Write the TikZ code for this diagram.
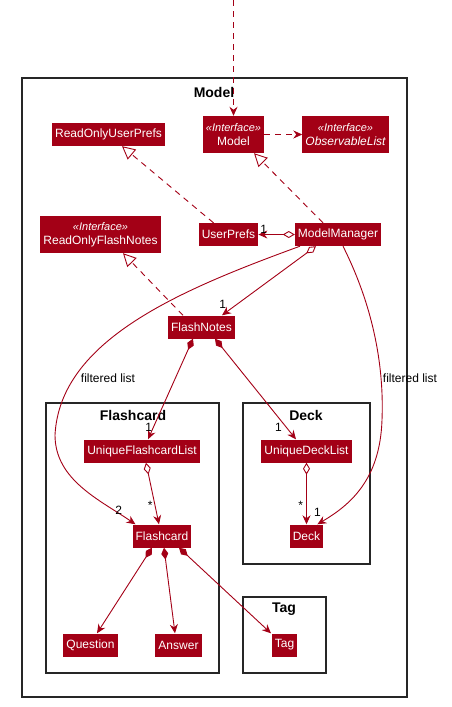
\documentclass[tikz,border=0pt]{standalone}
\usepackage{fontspec}
\setmainfont{Liberation Sans}
\usetikzlibrary{arrows.meta}
\definecolor{umlred}{RGB}{163,0,22}

\begin{document}
\begin{tikzpicture}[x=1pt, y=-1pt,
    cls/.style={fill=umlred, text=white, font=\fontsize{12}{14}\selectfont,
      inner xsep=3pt, inner ysep=0pt, minimum height=23pt, align=center},
    iface/.style={cls, minimum height=37pt},
    pkg/.style={draw=black!85, line width=1.2pt},
    pkgname/.style={font=\fontsize{14}{16}\selectfont\bfseries},
    mult/.style={font=\fontsize{12}{14}\selectfont, inner sep=1pt},
    conn/.style={draw=umlred, line width=0.9pt},
    assoc/.style={conn, -{Stealth[length=9pt, width=8pt, inset=3pt]}},
    dep/.style={assoc, dash pattern=on 6pt off 5pt},
    real/.style={conn, dash pattern=on 6pt off 5pt,
      -{Triangle[open, length=13pt, width=13pt, fill=white]}},
    aggr/.style={conn, {Diamond[open, length=12pt, width=7pt, fill=white]}-{Stealth[length=9pt, width=8pt, inset=3pt]}},
    comp/.style={conn, {Diamond[length=12pt, width=7pt]}-{Stealth[length=9pt, width=8pt, inset=3pt]}}]
    \useasboundingbox (0,0) rectangle (452,707);

    % packages
    \draw [pkg] (22,78) rectangle (407,697);
    \node [pkgname] at (214,92) {Model};
    \draw [pkg] (46,403) rectangle (219,673);
    \node [pkgname] at (133,415) {Flashcard};
    \draw [pkg] (243,403) rectangle (370,564);
    \node [pkgname] at (306,415) {Deck};
    \draw [pkg] (243,597) rectangle (326,673);
    \node [pkgname] at (284,609) {Tag};

    % classes
    \node [iface] (model) at (233.5,134.5) {{\fontsize{11}{13}\selectfont\itshape «Interface»}\\Model};
    \node [iface] (obslist) at (345.5,134.5) {{\fontsize{11}{13}\selectfont\itshape «Interface»}\\{\itshape ObservableList}};
    \node [cls] (rouprefs) at (108.5,134.5) {ReadOnlyUserPrefs};
    \node [iface] (rofn) at (100.5,234.5) {{\fontsize{11}{13}\selectfont\itshape «Interface»}\\ReadOnlyFlashNotes};
    \node [cls] (userprefs) at (228.5,234.5) {UserPrefs};
    \node [cls] (mm) at (338,234.5) {ModelManager};
    \node [cls] (fn) at (201.5,327) {FlashNotes};
    \node [cls] (ufl) at (142,451) {UniqueFlashcardList};
    \node [cls] (udl) at (306.5,451) {UniqueDeckList};
    \node [cls] (fc) at (162,536) {Flashcard};
    \node [cls] (deck) at (306.5,536) {Deck};
    \node [cls] (question) at (90.5,645) {Question};
    \node [cls] (answer) at (178.5,645) {Answer};
    \node [cls] (tag) at (284.5,645) {Tag};

    \coordinate (entry) at (233.5,0);

    % connectors
    \draw [dep] (entry) to (model);
    \draw [dep] (model) to (obslist);
    \draw [real] ([xshift=-15pt]userprefs.north) to ([xshift=13.5pt]rouprefs.south);
    \draw [real] ([xshift=-15pt]mm.north) to ([xshift=20.5pt]model.south);
    \draw [aggr] (mm) to node [mult, pos=0.85, above] {1} (userprefs);
    \draw [aggr] ([xshift=-22pt]mm.south) to node [mult, pos=0.93, above left=1pt] {1} ([xshift=20.5pt]fn.north);
    \draw [real] ([xshift=-18.5pt]fn.north) to ([xshift=22.5pt]rofn.south);
    \draw [comp] ([xshift=-8.5pt]fn.south) to node [mult, pos=0.88, left] {1} ([xshift=6pt]ufl.north);
    \draw [comp] ([xshift=13.5pt]fn.south) to node [mult, pos=0.88, left=3pt] {1} ([xshift=-10.5pt]udl.north);
    \draw [aggr] ([xshift=4pt]ufl.south) to node [mult, pos=0.7, left=1pt] {*} ([xshift=-3pt]fc.north);
    \draw [aggr] (udl.south) to node [mult, pos=0.7, left=2pt] {*} (deck.north);
    \draw [comp] ([xshift=-10pt]fc.south) to ([xshift=6.5pt]question.north);
    \draw [comp] ([xshift=2pt]fc.south) to ([xshift=-3.5pt]answer.north);
    \draw [comp] ([xshift=17pt]fc.south) to ([xshift=-13.5pt]tag.north);

    % filtered lists
    \draw [assoc] ([xshift=-38pt]mm.south) .. controls (180,290) and (60,340) .. (55,435)
      .. controls (55,480) and (100,500) .. ([xshift=3pt]fc.north west)
      node [mult, pos=0.9, above left=1pt] {2};
    \draw [assoc] ([xshift=5pt]mm.south) .. controls (375,310) and (384,370) .. (382,420)
      .. controls (380,480) and (350,505) .. ([xshift=-6pt]deck.north east)
      node [mult, pos=0.93, above left=2pt] {1};
    \node [mult] (flleft) at (108,378) {filtered list};
    \node [mult] (flright) at (410,378) {filtered list};
\end{tikzpicture}
\end{document}
